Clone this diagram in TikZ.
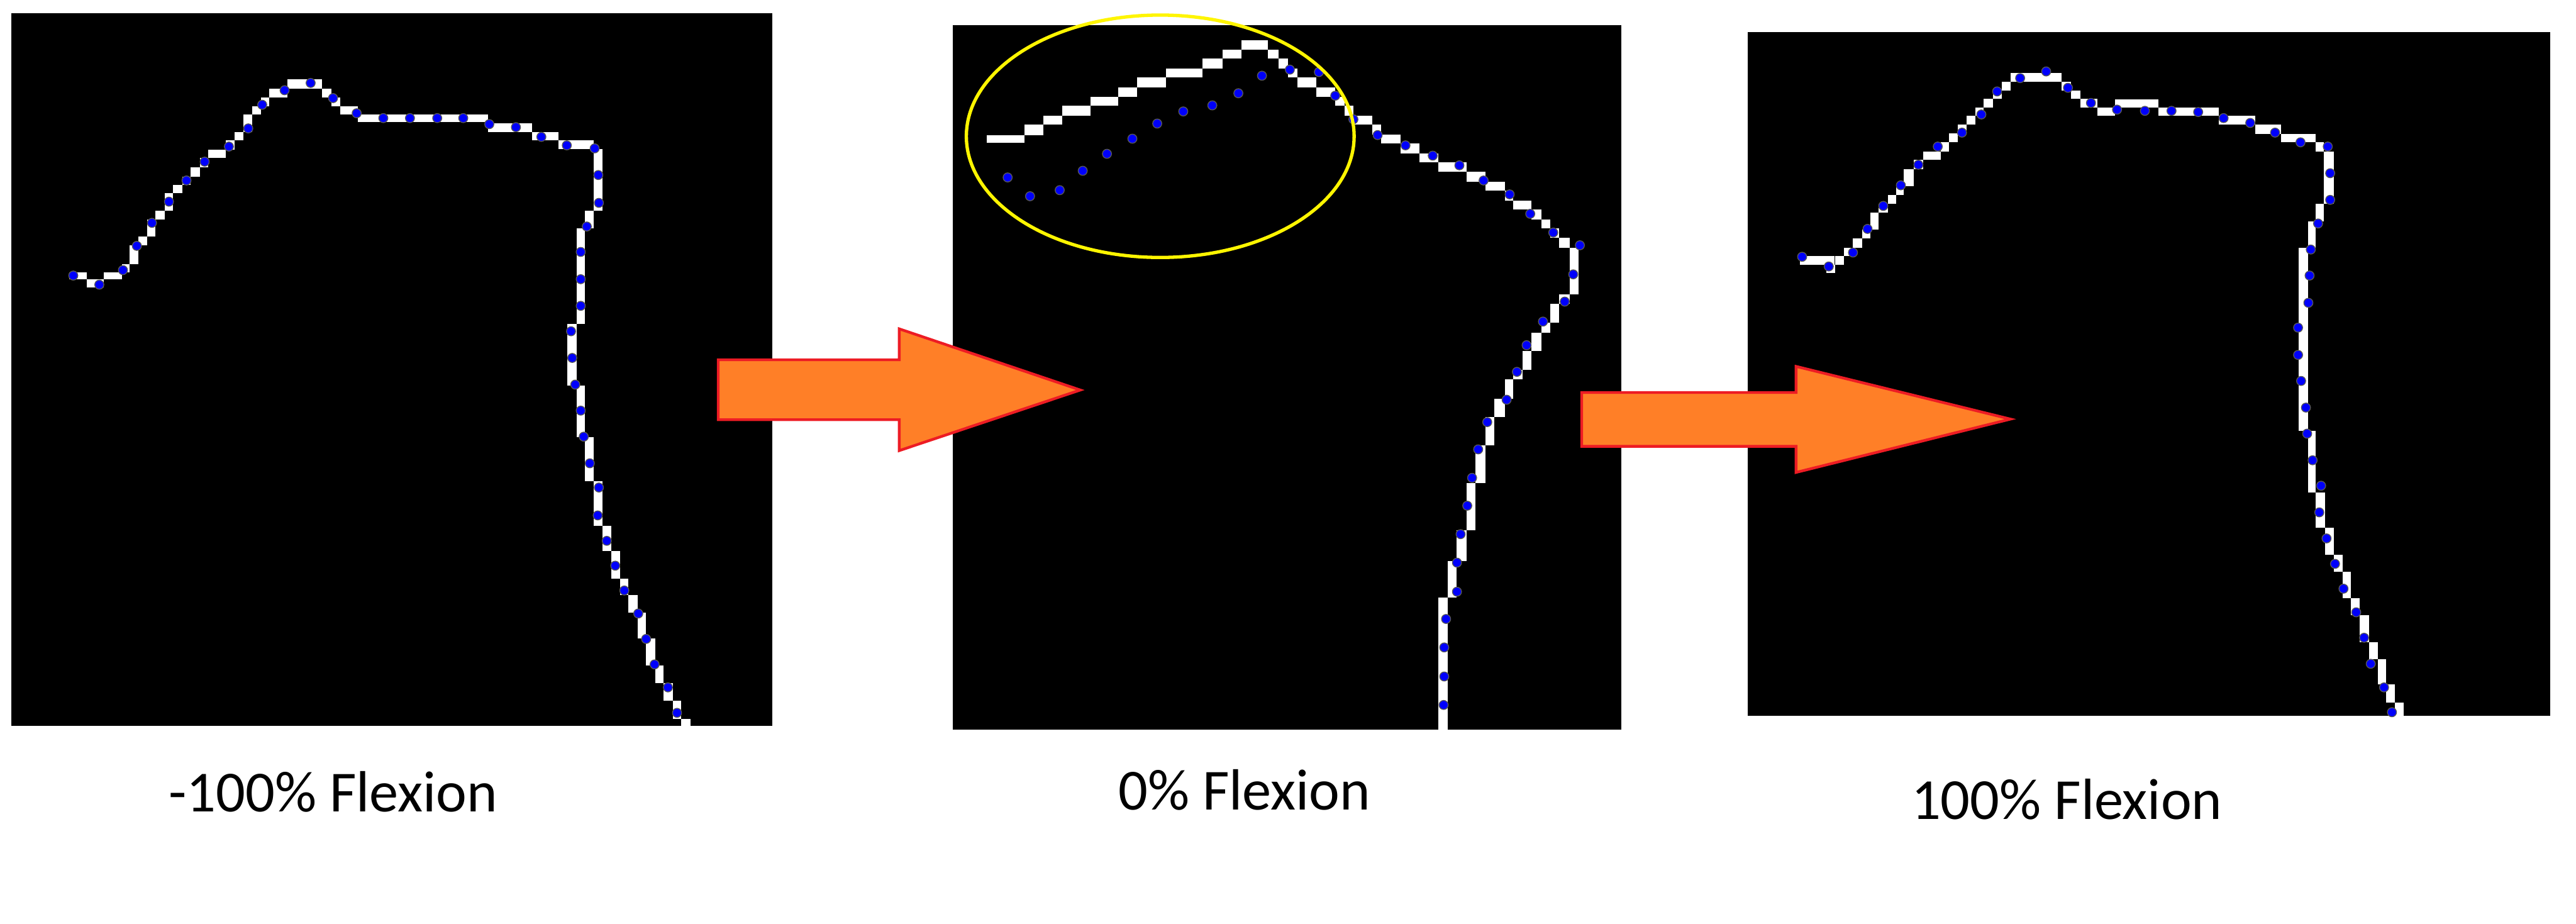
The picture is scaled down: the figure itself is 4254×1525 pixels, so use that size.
\documentclass[tikz,border=0pt]{standalone}
\usepackage{fontspec}
\setmainfont{Carlito}
\usepackage{tikz}

\definecolor{arrowfill}{RGB}{255,127,39}
\definecolor{arrowedge}{RGB}{237,28,36}
\definecolor{roiyellow}{RGB}{255,245,0}
\definecolor{dotblue}{RGB}{0,0,250}

\tikzset{
  panel/.style={fill=black},
  edgepix/.style={fill=white},
  landmark/.style={fill=dotblue, draw=black!65, line width=0.014cm},
  blockarrow/.style={fill=arrowfill, draw=arrowedge, line width=0.045cm, line join=miter},
  roi/.style={draw=roiyellow, line width=0.055cm},
  caption/.style={font=\fontsize{27.3}{32}\selectfont, anchor=base, inner sep=0pt}
}

\begin{document}
\begin{tikzpicture}[x=0.01cm, y=-0.01cm]
\useasboundingbox (0,0) rectangle (4254,1525);

% Black image panels
\fill[panel] (19,22) rectangle (1275,1199);
\fill[panel] (1573,42) rectangle (2677,1205);
\fill[panel] (2886,53) rectangle (4211,1182);

% Left panel: pixel edge and landmarks
\foreach \xa/\xb/\ya/\yb in {114/143/450/461, 143/171/461/475, 171/201/450/461, 201/214/436/450,
  214/228/405/436, 228/243/391/405, 243/257/362/391, 257/272/348/362, 272/286/319/348,
  286/301/305/319, 301/315/292/305, 315/330/276/292, 330/344/261/276, 344/373/247/261,
  373/387/232/247, 387/402/218/232, 402/416/189/218, 416/431/176/189, 431/445/161/176,
  445/475/146/161, 475/532/131/146, 532/547/146/161, 547/562/161/176, 562/591/176/189,
  591/806/189/202, 806/879/204/218, 879/922/218/232, 922/980/232/246, 980/995/246/348,
  966/980/348/377, 952/966/377/535, 937/952/535/637, 952/966/637/722, 966/980/722/795,
  980/995/795/868, 995/1010/868/910, 1010/1024/910/955, 1024/1038/955/982, 1038/1053/982/1012,
  1053/1067/1012/1054, 1067/1082/1054/1099, 1082/1096/1099/1128, 1096/1111/1128/1157,
  1111/1125/1157/1187, 1125/1140/1187/1199}
  \fill[edgepix] (\xa,\ya) rectangle (\xb,\yb);
\foreach \px/\py in {121/455, 164/470, 203/446, 226/406, 251/368, 279/333, 308/298, 338/267,
  378/242, 410/212, 433/173, 470/149, 513/137, 550/162, 589/187, 633/195, 677/195, 722/195,
  765/195, 808/205, 852/210, 894/226, 936/240, 982/245, 988/289, 989/335, 969/374, 959/416,
  959/461, 959/505, 943/547, 945/591, 950/635, 959/678, 964/721, 974/765, 989/805, 987/851,
  1002/893, 1016/934, 1031/975, 1054/1013, 1067/1055, 1081/1097, 1103/1135, 1118/1177}
  \filldraw[landmark] (\px,\py) circle (0.075cm);

% Middle panel: pixel edge and landmarks
\foreach \xa/\xb/\ya/\yb in {1630/1692/223/236, 1692/1723/206/223, 1723/1754/191/206,
  1754/1801/175/191, 1801/1847/160/175, 1847/1878/144/160, 1878/1925/128/144,
  1925/1986/113/128, 1986/2019/97/113, 2019/2050/82/97, 2050/2094/66/82, 2094/2111/82/97,
  2111/2127/97/113, 2127/2143/113/128, 2143/2174/128/144, 2174/2205/144/160,
  2205/2220/160/175, 2220/2235/175/191, 2235/2266/191/206, 2266/2281/206/222,
  2281/2313/222/237, 2313/2344/237/253, 2344/2375/253/268, 2375/2422/268/284,
  2422/2453/284/300, 2453/2485/300/315, 2485/2499/315/331, 2499/2529/331/346,
  2529/2545/346/362, 2545/2560/362/377, 2560/2575/377/393, 2575/2592/393/409,
  2592/2607/409/486, 2575/2592/486/502, 2560/2575/502/533, 2545/2560/533/549,
  2529/2545/549/580, 2514/2529/580/611, 2499/2514/611/626, 2485/2499/626/658,
  2468/2485/658/689, 2453/2468/689/735, 2436/2453/735/798, 2422/2436/798/875,
  2405/2422/875/926, 2391/2405/926/987, 2375/2391/987/1205}
  \fill[edgepix] (\xa,\ya) rectangle (\xb,\yb);
\foreach \px/\py in {1664/293, 1701/324, 1750/314, 1788/282, 1828/254, 1870/229, 1911/204,
  1954/184, 2002/174, 2045/154, 2084/125, 2130/115, 2178/119, 2205/158, 2235/197, 2275/223,
  2321/240, 2366/257, 2410/273, 2450/298, 2493/321, 2527/353, 2565/384, 2609/405, 2598/453,
  2584/498, 2548/531, 2521/570, 2505/614, 2488/660, 2456/697, 2441/742, 2431/789, 2423/835,
  2412/882, 2406/929, 2406/977, 2388/1022, 2385/1069, 2385/1117, 2384/1164}
  \filldraw[landmark] (\px,\py) circle (0.075cm);

% Highlighted mismatch
\draw[roi] (1916,225) ellipse [x radius=3.2cm, y radius=2cm];

% Right panel: pixel edge and landmarks
\foreach \xa/\xb/\ya/\yb in {2972/3029/423/437, 3016/3031/437/451, 3031/3045/423/437,
  3045/3060/409/423, 3060/3075/394/409, 3075/3089/379/394, 3089/3102/351/379,
  3102/3118/337/351, 3118/3131/322/337, 3131/3144/307/322, 3144/3160/279/307,
  3160/3176/264/279, 3176/3205/250/264, 3205/3218/235/250, 3218/3233/220/235,
  3233/3248/206/220, 3248/3262/191/206, 3262/3276/178/191, 3276/3291/163/178,
  3291/3306/150/163, 3306/3320/135/150, 3320/3404/121/135, 3404/3420/135/150,
  3420/3436/150/163, 3436/3464/163/178, 3464/3493/178/191, 3493/3564/164/178,
  3564/3664/178/191, 3664/3724/191/206, 3724/3767/206/221, 3767/3824/221/235,
  3824/3838/235/250, 3838/3854/250/337, 3824/3838/337/366, 3811/3824/366/409,
  3796/3811/409/711, 3811/3824/711/813, 3824/3840/813/871, 3840/3854/871/916,
  3854/3869/916/944, 3869/3882/944/988, 3882/3897/988/1016, 3897/3912/1016/1060,
  3912/3927/1060/1088, 3927/3940/1088/1130, 3940/3955/1130/1160, 3955/3969/1160/1182}
  \fill[edgepix] (\xa,\ya) rectangle (\xb,\yb);
\foreach \px/\py in {2976/424, 3020/440, 3060/417, 3084/378, 3110/340, 3139/306, 3168/272,
  3200/242, 3240/219, 3272/189, 3298/151, 3336/129, 3379/118, 3415/145, 3453/170, 3496/181,
  3542/183, 3586/183, 3630/185, 3672/195, 3716/203, 3757/219, 3799/235, 3844/242, 3848/286,
  3848/330, 3828/369, 3816/412, 3814/455, 3812/500, 3795/541, 3795/586, 3800/629, 3808/673,
  3810/716, 3819/760, 3833/802, 3830/846, 3842/889, 3856/931, 3870/972, 3891/1011,
  3904/1053, 3915/1096, 3937/1135, 3950/1176}
  \filldraw[landmark] (\px,\py) circle (0.075cm);

% Block arrows between panels
\draw[blockarrow] (1186,594) -- (1485,594) -- (1485,543) -- (1784,644)
  -- (1485,744) -- (1485,693) -- (1186,693) -- cycle;
\draw[blockarrow] (2612,648) -- (2966,648) -- (2966,605) -- (3320,692)
  -- (2966,780) -- (2966,737) -- (2612,737) -- cycle;

% Captions
\node[caption] (capneg) at (550,1340) {-100\% Flexion};
\node[caption] (capzero) at (2055,1337) {0\% Flexion};
\node[caption] (cappos) at (3413,1353) {100\% Flexion};

\end{tikzpicture}
\end{document}
